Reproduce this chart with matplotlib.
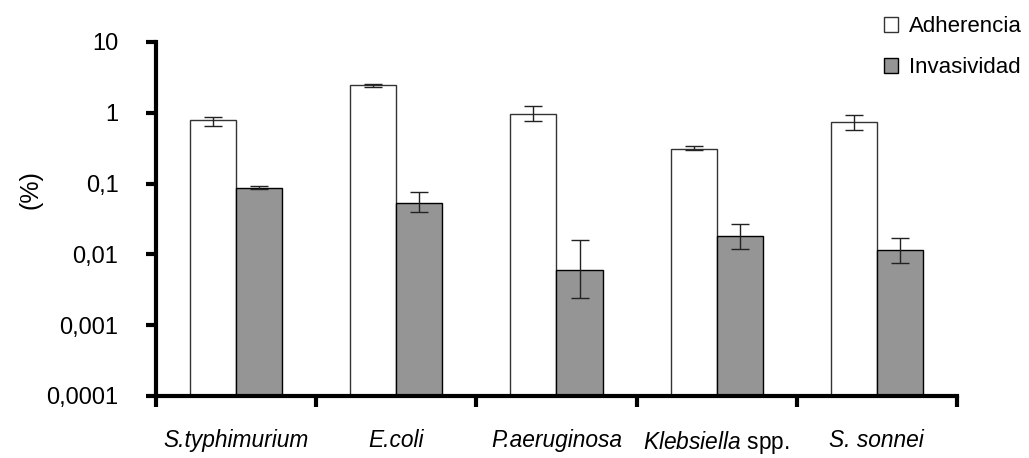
import matplotlib
matplotlib.use("Agg")
import matplotlib.pyplot as plt
import numpy as np

plt.rcParams['font.family'] = ['Liberation Sans', 'DejaVu Sans']
plt.rcParams['mathtext.fontset'] = 'custom'
plt.rcParams['mathtext.rm'] = 'Liberation Sans'
plt.rcParams['mathtext.it'] = 'Liberation Sans:italic'

categories = ['S.typhimurium', 'E.coli', 'P.aeruginosa', r'$\mathit{Klebsiella}$ spp.', 'S. sonnei']
italic = [True, True, True, False, True]

adherencia = [0.78, 2.45, 0.97, 0.31, 0.73]
adh_err_lo = [0.13, 0.10, 0.20, 0.014, 0.15]
adh_err_hi = [0.10, 0.10, 0.26, 0.035, 0.19]

invasividad = [0.088, 0.0525, 0.0061, 0.0179, 0.0115]
inv_err_lo = [0.003, 0.0126, 0.0037, 0.0059, 0.0039]
inv_err_hi = [0.003, 0.0225, 0.0098, 0.0086, 0.0055]

ytick_vals = [1e-4, 1e-3, 1e-2, 1e-1, 1, 10]
ytick_labels = ['0,0001', '0,001', '0,01', '0,1', '1', '10']

fig = plt.figure(figsize=(10.29, 4.58), dpi=100)
ax = fig.add_axes([0.1516, 0.1354, 0.930 - 0.1516, 0.9083 - 0.1354])

x = np.arange(len(categories))
w = 0.2875
ax.bar(x - w / 2, adherencia, w, color='white', edgecolor='#333333', linewidth=1,
       label='Adherencia', zorder=2)
ax.bar(x + w / 2, invasividad, w, color='#959595', edgecolor='black', linewidth=1,
       label='Invasividad', zorder=2)
ax.errorbar(x - w / 2, adherencia, yerr=[adh_err_lo, adh_err_hi], fmt='none',
            ecolor='#222222', elinewidth=1, capsize=6.5, capthick=1, zorder=3)
ax.errorbar(x + w / 2, invasividad, yerr=[inv_err_lo, inv_err_hi], fmt='none',
            ecolor='#222222', elinewidth=1, capsize=6.5, capthick=1, zorder=3)

ax.set_yscale('log')
ax.set_ylim(1e-4, 10)
ax.set_xlim(-0.5, len(categories) - 0.5)
ax.set_yticks(ytick_vals)
ax.set_yticklabels(ytick_labels)
ax.yaxis.set_minor_locator(matplotlib.ticker.NullLocator())
ax.tick_params(axis='y', which='major', direction='out', length=7, width=3,
               pad=20, labelsize=17)

ax.set_xticks(np.arange(len(categories) + 1) - 0.5)
ax.set_xticklabels([])
ax.tick_params(axis='x', which='major', direction='out', length=8, width=3)
ax.set_xticks(x, minor=True)
ax.set_xticklabels(categories, minor=True)
ax.tick_params(axis='x', which='minor', length=0, pad=24, labelsize=16.4)
for lbl, it in zip(ax.get_xticklabels(minor=True), italic):
    if it:
        lbl.set_style('italic')

for s in ['top', 'right']:
    ax.spines[s].set_visible(False)
for s in ['left', 'bottom']:
    ax.spines[s].set_linewidth(3)

ax.set_ylabel('(%)', fontsize=18)
ax.yaxis.set_label_coords(-0.142, 0.582)

ax.legend(loc='upper left', bbox_to_anchor=(0.842, 1.003), bbox_transform=fig.transFigure,
          frameon=False, fontsize=16, handlelength=0.63, handleheight=0.63,
          handletextpad=0.5, labelspacing=0.9, borderpad=0.3)

fig.savefig('out.png', dpi=100)
